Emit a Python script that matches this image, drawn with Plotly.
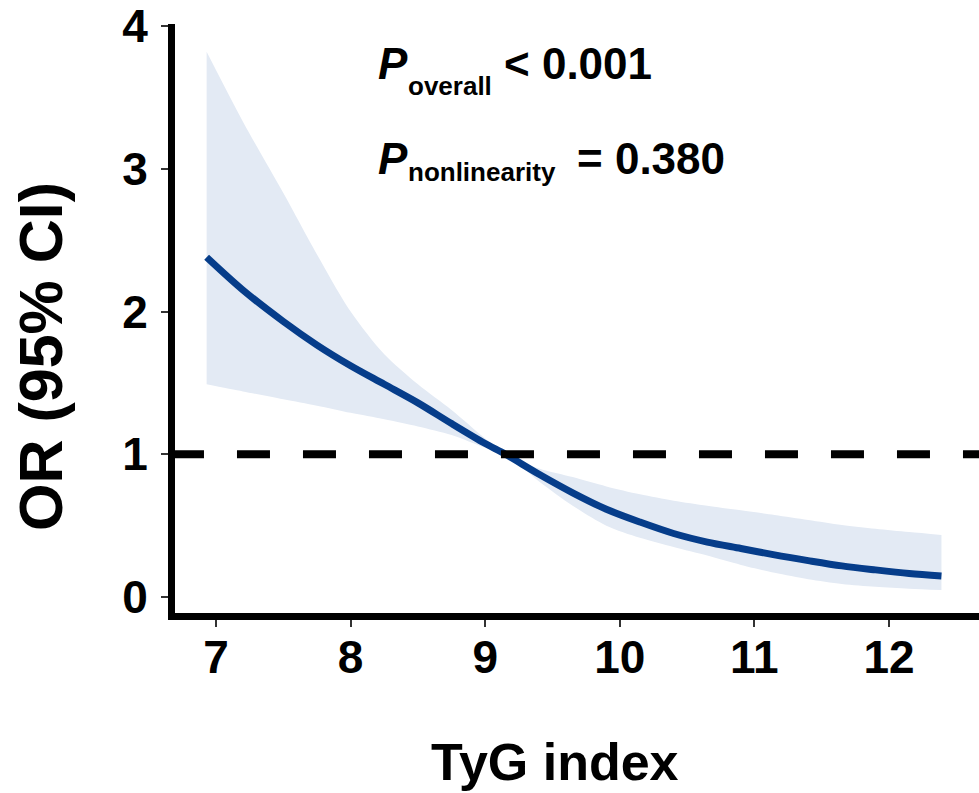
import plotly.graph_objects as go

# ---- data ----
tyg = [6.93, 7.2, 7.5, 7.75, 8.0, 8.25, 8.5, 8.75, 9.0, 9.15, 9.4, 9.65, 9.9,
       10.15, 10.4, 10.65, 10.9, 11.15, 11.4, 11.65, 11.9, 12.15, 12.39]
or_est = [2.38, 2.15, 1.93, 1.765, 1.62, 1.49, 1.36, 1.215, 1.075, 1.00, 0.86,
          0.73, 0.615, 0.525, 0.445, 0.385, 0.34, 0.295, 0.255, 0.218, 0.19, 0.165, 0.147]
or_upper = [3.82, 3.33, 2.83, 2.40, 2.00, 1.70, 1.49, 1.31, 1.11, 1.00, 0.90,
            0.84, 0.775, 0.72, 0.675, 0.64, 0.607, 0.575, 0.54, 0.505, 0.478, 0.455, 0.435]
or_lower = [1.49, 1.44, 1.385, 1.34, 1.29, 1.245, 1.195, 1.135, 1.045, 1.00, 0.81,
            0.64, 0.50, 0.415, 0.35, 0.29, 0.225, 0.17, 0.125, 0.092, 0.072, 0.058, 0.049]
x_ticks = [7, 8, 9, 10, 11, 12]
y_ticks = [0, 1, 2, 3, 4]
ref_line = 1

W, H = 979, 793
L, R, T, B = 175, 0, 24, 180
FONT = "Liberation Sans, Arial, Helvetica, sans-serif"

def px(xp):
    return (xp - L) / (W - L - R)

def py(yp):
    return (H - B - yp) / (H - B - T)

fig = go.Figure()
fig.add_trace(go.Scatter(
    x=tyg, y=or_lower, mode="lines", line=dict(width=0, shape="spline", smoothing=0.8),
    hoverinfo="skip", showlegend=False))
fig.add_trace(go.Scatter(
    x=tyg, y=or_upper, mode="lines", fill="tonexty", fillcolor="#E3EAF4",
    line=dict(width=0, shape="spline", smoothing=0.8),
    hoverinfo="skip", showlegend=False))
fig.add_trace(go.Scatter(
    x=tyg, y=or_est, mode="lines",
    line=dict(color="#063D8A", width=7, shape="spline", smoothing=0.9), showlegend=False))

fig.add_shape(type="line", xref="paper", x0=-0.005, x1=1, yref="y", y0=ref_line, y1=ref_line,
              line=dict(color="black", width=8, dash="33px,33px"), layer="above")

ann_font_big = dict(family=FONT, size=44, color="black", weight="bold")
ann_font_small = dict(family=FONT, size=26, color="black", weight="bold")
annots = [
    ("<i>P</i>", 377, 64, ann_font_big),
    ("overall", 407, 86, ann_font_small),
    ("< 0.001", 503, 64, ann_font_big),
    ("<i>P</i>", 377, 158, ann_font_big),
    ("nonlinearity", 407, 172, ann_font_small),
    ("= 0.380", 576, 158, ann_font_big),
]
for txt, xp, yp, f in annots:
    fig.add_annotation(text=txt, xref="paper", yref="paper", x=px(xp), y=py(yp),
                       xanchor="left", yanchor="middle", showarrow=False,
                       font=f, borderpad=0)

# axis titles
fig.add_annotation(text="TyG index", xref="paper", yref="paper", x=px(555), y=py(762),
                   xanchor="center", yanchor="middle", showarrow=False,
                   font=dict(family=FONT, size=52, color="black", weight="bold"))
fig.add_annotation(text="OR (95% CI)", xref="paper", yref="paper", x=px(41), y=py(357),
                   xanchor="center", yanchor="middle", showarrow=False, textangle=-90,
                   font=dict(family=FONT, size=61, color="black", weight="bold"))

axis_common = dict(showgrid=False, zeroline=False, showline=True, linecolor="black",
                   linewidth=7, ticks="outside", ticklen=7, tickwidth=2, tickcolor="#333333",
                   tickfont=dict(family=FONT, size=46, color="black", weight="bold"))
fig.update_xaxes(range=[6.695, 12.669], tickvals=x_ticks, ticktext=[str(v) for v in x_ticks],
                 ticklabelstandoff=-9, **axis_common)
fig.update_yaxes(range=[-0.112, 4.014], tickvals=y_ticks, ticktext=[str(v) for v in y_ticks],
                 ticklabelstandoff=4, **axis_common)
fig.update_layout(width=W, height=H, margin=dict(l=L, r=R, t=T, b=B),
                  plot_bgcolor="white", paper_bgcolor="white", showlegend=False)
fig.write_html("out.html", config={"displayModeBar": False},
               post_script="document.body.style.margin='0';document.body.style.overflow='hidden';")
